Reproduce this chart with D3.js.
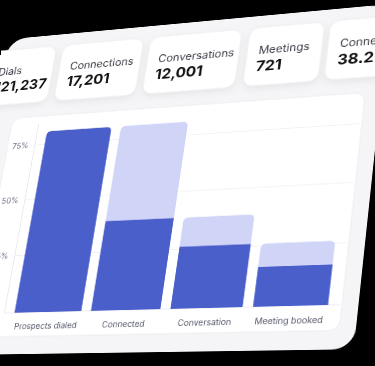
<!DOCTYPE html>
<html>
<head>
<meta charset="utf-8">
<script src="https://cdn.jsdelivr.net/npm/d3@7"></script>
<style>
html, body { margin: 0; padding: 0; background: #000; width: 375px; height: 366px; overflow: hidden; }
#chart { position: absolute; left: 0; top: 0; width: 375px; height: 366px; filter: blur(0.35px); }
#chart svg { position: absolute; left: 0; top: 0; transform-origin: 0 0; }
</style>
</head>
<body>
<div id="chart"></div>
<script>
// funnel stages
const stages = ['Prospects dialed', 'Connected', 'Conversation', 'Meeting booked'];
const stageRate = [0.81, 0.385, 0.26, 0.163];
const prevRate = [null, 0.81, 0.385, 0.26];
const yTicks = [0.25, 0.5, 0.75];
const yMax = 0.85;

// kpi cards
const kpiNames = ['Dials', 'Connections', 'Conversations', 'Meetings', 'Connection rate'];
const kpiValues = ['121,237', '17,201', '12,001', '721', '38.27%'];

// flat layout, projected afterwards
const W = 620, H = 540;
const plot = { left: 70, top: 200, width: 400, height: 250 };

const svg = d3.select('#chart').append('svg')
  .attr('width', W)
  .attr('height', H);

const defs = svg.append('defs');
const shadow = defs.append('filter').attr('id', 'shadow')
  .attr('x', '-20%').attr('y', '-20%').attr('width', '140%').attr('height', '160%');
shadow.append('feDropShadow')
  .attr('dx', 0).attr('dy', 4).attr('stdDeviation', 5)
  .attr('flood-color', '#000').attr('flood-opacity', 0.06);

// main panel
svg.append('rect')
  .attr('x', 8).attr('y', 76)
  .attr('width', 482).attr('height', 426)
  .attr('rx', 24)
  .attr('fill', '#f5f5f7');

// cards
const cardX = [-12, 85, 200, 325, 422];
const cardW = [88, 106, 115, 90, 140];
const cards = svg.selectAll('.card')
  .data(kpiNames)
  .enter().append('g')
  .attr('class', 'card')
  .attr('transform', (d, i) => 'translate(' + cardX[i] + ',92)');

cards.append('rect')
  .attr('width', (d, i) => cardW[i])
  .attr('height', 78)
  .attr('rx', 12)
  .attr('fill', '#fff')
  .attr('stroke', '#eeeef1')
  .attr('filter', 'url(#shadow)');

cards.append('text')
  .attr('x', 14).attr('y', 36)
  .attr('font-family', 'Inter, sans-serif')
  .attr('font-size', 14)
  .attr('fill', '#3d3d47')
  .text(d => d);

cards.append('text')
  .attr('x', 13).attr('y', 59)
  .attr('font-family', 'Inter, sans-serif')
  .attr('font-size', 19)
  .attr('font-weight', 700)
  .attr('fill', '#111')
  .text((d, i) => kpiValues[i]);

// chart box
svg.append('rect')
  .attr('x', 34).attr('y', 190)
  .attr('width', 438).attr('height', 290)
  .attr('rx', 12)
  .attr('fill', '#fff')
  .attr('stroke', '#ececf0');

const g = svg.append('g')
  .attr('transform', 'translate(' + plot.left + ',' + plot.top + ')');

const x = d3.scaleBand()
  .domain(stages)
  .range([0, plot.width])
  .paddingInner(0.125)
  .paddingOuter(0.14);

const y = d3.scaleLinear()
  .domain([0, yMax])
  .range([plot.height, 0]);

// grid
g.selectAll('.grid')
  .data(yTicks)
  .enter().append('line')
  .attr('x1', 0).attr('x2', plot.width)
  .attr('y1', d => y(d)).attr('y2', d => y(d))
  .attr('stroke', '#f0f0f3');

const yAxis = d3.axisLeft(y)
  .tickValues(yTicks)
  .tickSize(0)
  .tickPadding(8)
  .tickFormat(d3.format('.0%'));

g.append('g')
  .attr('class', 'y axis')
  .call(yAxis)
  .call(s => s.select('.domain').attr('stroke', '#e6e6ea'))
  .selectAll('text')
  .attr('font-family', 'Inter, sans-serif')
  .attr('font-size', 10)
  .attr('fill', '#6c6f86');

g.append('line')
  .attr('x1', 0).attr('x2', plot.width)
  .attr('y1', y(0)).attr('y2', y(0))
  .attr('stroke', '#ececf0');

// bar with rounded top corners
function topRounded(x0, y0, w, h, r) {
  return 'M' + x0 + ',' + (y0 + h) +
    'V' + (y0 + r) +
    'Q' + x0 + ',' + y0 + ' ' + (x0 + r) + ',' + y0 +
    'H' + (x0 + w - r) +
    'Q' + (x0 + w) + ',' + y0 + ' ' + (x0 + w) + ',' + (y0 + r) +
    'V' + (y0 + h) + 'Z';
}

g.selectAll('.prev')
  .data(stages.filter((d, i) => prevRate[i] != null))
  .enter().append('path')
  .attr('class', 'prev')
  .attr('fill', '#d0d5f8')
  .attr('d', d => {
    const i = stages.indexOf(d);
    return topRounded(x(d), y(prevRate[i]), x.bandwidth(), y(0) - y(prevRate[i]), 6);
  });

g.selectAll('.bar')
  .data(stages)
  .enter().append('path')
  .attr('class', 'bar')
  .attr('fill', '#4b5fcb')
  .attr('d', (d, i) => topRounded(x(d), y(stageRate[i]), x.bandwidth(), y(0) - y(stageRate[i]), prevRate[i] == null ? 6 : 0));

g.selectAll('.xlabel')
  .data(stages)
  .enter().append('text')
  .attr('class', 'xlabel')
  .attr('x', d => x(d) + x.bandwidth() / 2)
  .attr('y', y(0) + 21)
  .attr('text-anchor', 'middle')
  .attr('font-family', 'Inter, sans-serif')
  .attr('font-size', 10)
  .attr('fill', '#55586a')
  .text(d => d);

// projection: plot corners -> where they sit in the photo
const last = stages[stages.length - 1];
const src = [
  [plot.left, plot.top + y(0)],
  [plot.left, plot.top + y(0.75)],
  [plot.left + x(last) + x.bandwidth(), plot.top + y(0)],
  [plot.left + x(last) + x.bandwidth(), plot.top + y(0.75)]
];
const dst = [[4, 313], [34.5, 145], [328, 305], [348.4, 124.3]];

function solve(A, b) {
  const n = b.length;
  const M = A.map((r, i) => r.concat([b[i]]));
  for (let c = 0; c < n; c++) {
    let p = c;
    for (let r = c + 1; r < n; r++) if (Math.abs(M[r][c]) > Math.abs(M[p][c])) p = r;
    [M[c], M[p]] = [M[p], M[c]];
    for (let r = 0; r < n; r++) {
      if (r === c) continue;
      const f = M[r][c] / M[c][c];
      for (let k = c; k <= n; k++) M[r][k] -= f * M[c][k];
    }
  }
  return M.map((r, i) => r[n] / r[i]);
}

const A = [], b = [];
src.forEach(([u, v], i) => {
  const [px, py] = dst[i];
  A.push([u, v, 1, 0, 0, 0, -u * px, -v * px]); b.push(px);
  A.push([0, 0, 0, u, v, 1, -u * py, -v * py]); b.push(py);
});
const h = solve(A, b);
svg.style('transform', 'matrix3d(' + [h[0], h[3], 0, h[6], h[1], h[4], 0, h[7], 0, 0, 1, 0, h[2], h[5], 0, 1].join(',') + ')');
</script>
</body>
</html>
